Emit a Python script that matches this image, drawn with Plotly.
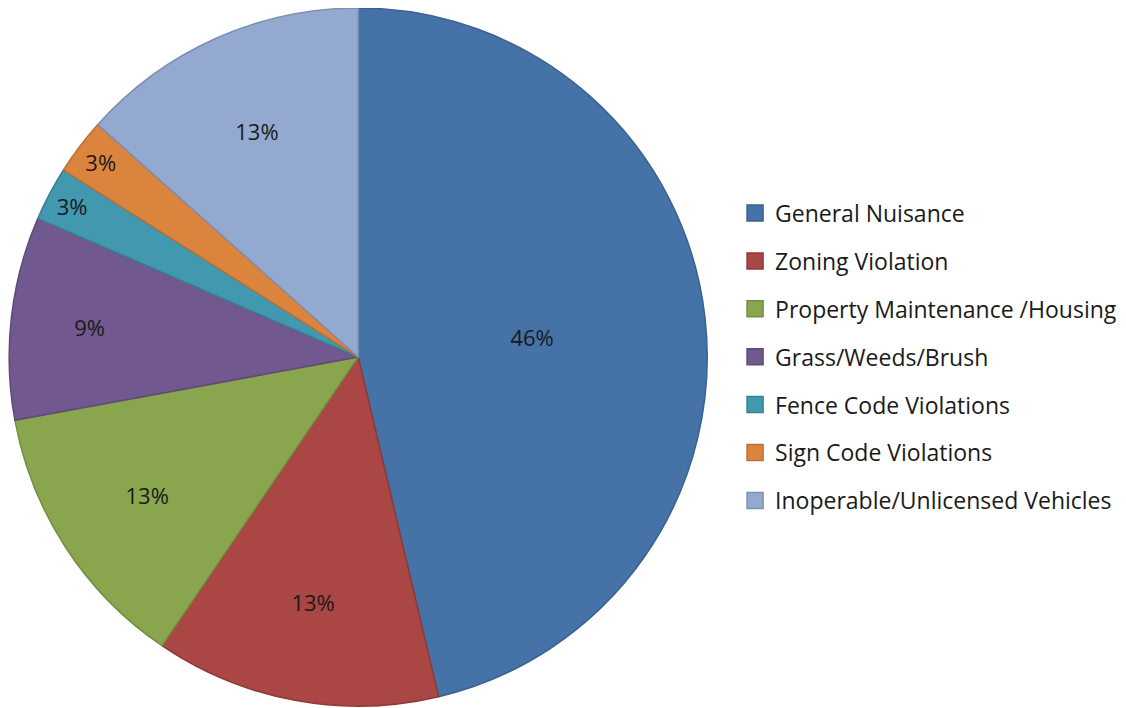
import plotly.graph_objects as go

categories = ["General Nuisance", "Zoning Violation", "Property Maintenance /Housing",
              "Grass/Weeds/Brush", "Fence Code Violations", "Sign Code Violations",
              "Inoperable/Unlicensed Vehicles"]
values = [46.3, 13.2, 12.6, 9.4, 2.5, 2.6, 13.4]
fill_colors = ["#4572A7", "#AA4643", "#89A54E", "#71588F", "#4198AF", "#DB843D", "#93A9CF"]
line_colors = ["#3A6191", "#8F3A38", "#748C42", "#5F4A79", "#378194", "#BA7034", "#7D8FB0"]

FONT = "Open Sans"

fig = go.Figure()
fig.add_trace(go.Pie(
    labels=categories, values=values, sort=False, direction="clockwise", rotation=0,
    marker=dict(colors=fill_colors, line=dict(color=line_colors, width=1.5)),
    texttemplate="%{percent:.0%}", textposition="inside", insidetextorientation="horizontal",
    textfont=dict(family=FONT, size=22, color="#1a1a1a"),
    showlegend=False, domain=dict(x=[0.001, 0.621], y=[0.014, 1.0]),
    hoverinfo="label+percent",
))
for name, fc, lc in zip(categories, fill_colors, line_colors):
    fig.add_trace(go.Scatter(
        x=[None], y=[None], mode="markers", name=name, legendgroup=name,
        marker=dict(symbol="square", size=16, color=fc, line=dict(color=lc, width=1.5)),
    ))

fig.update_layout(
    width=1126, height=708, margin=dict(l=0, r=0, t=0, b=0),
    paper_bgcolor="white", plot_bgcolor="white",
    uniformtext=dict(minsize=22, mode="show"),
    xaxis=dict(visible=False), yaxis=dict(visible=False),
    legend=dict(x=0.6457, y=0.507, xanchor="left", yanchor="middle",
                font=dict(family=FONT, size=23, color="#1a1a1a"),
                tracegroupgap=15, itemwidth=30, bgcolor="rgba(0,0,0,0)"),
)
fig.write_html("out.html")
